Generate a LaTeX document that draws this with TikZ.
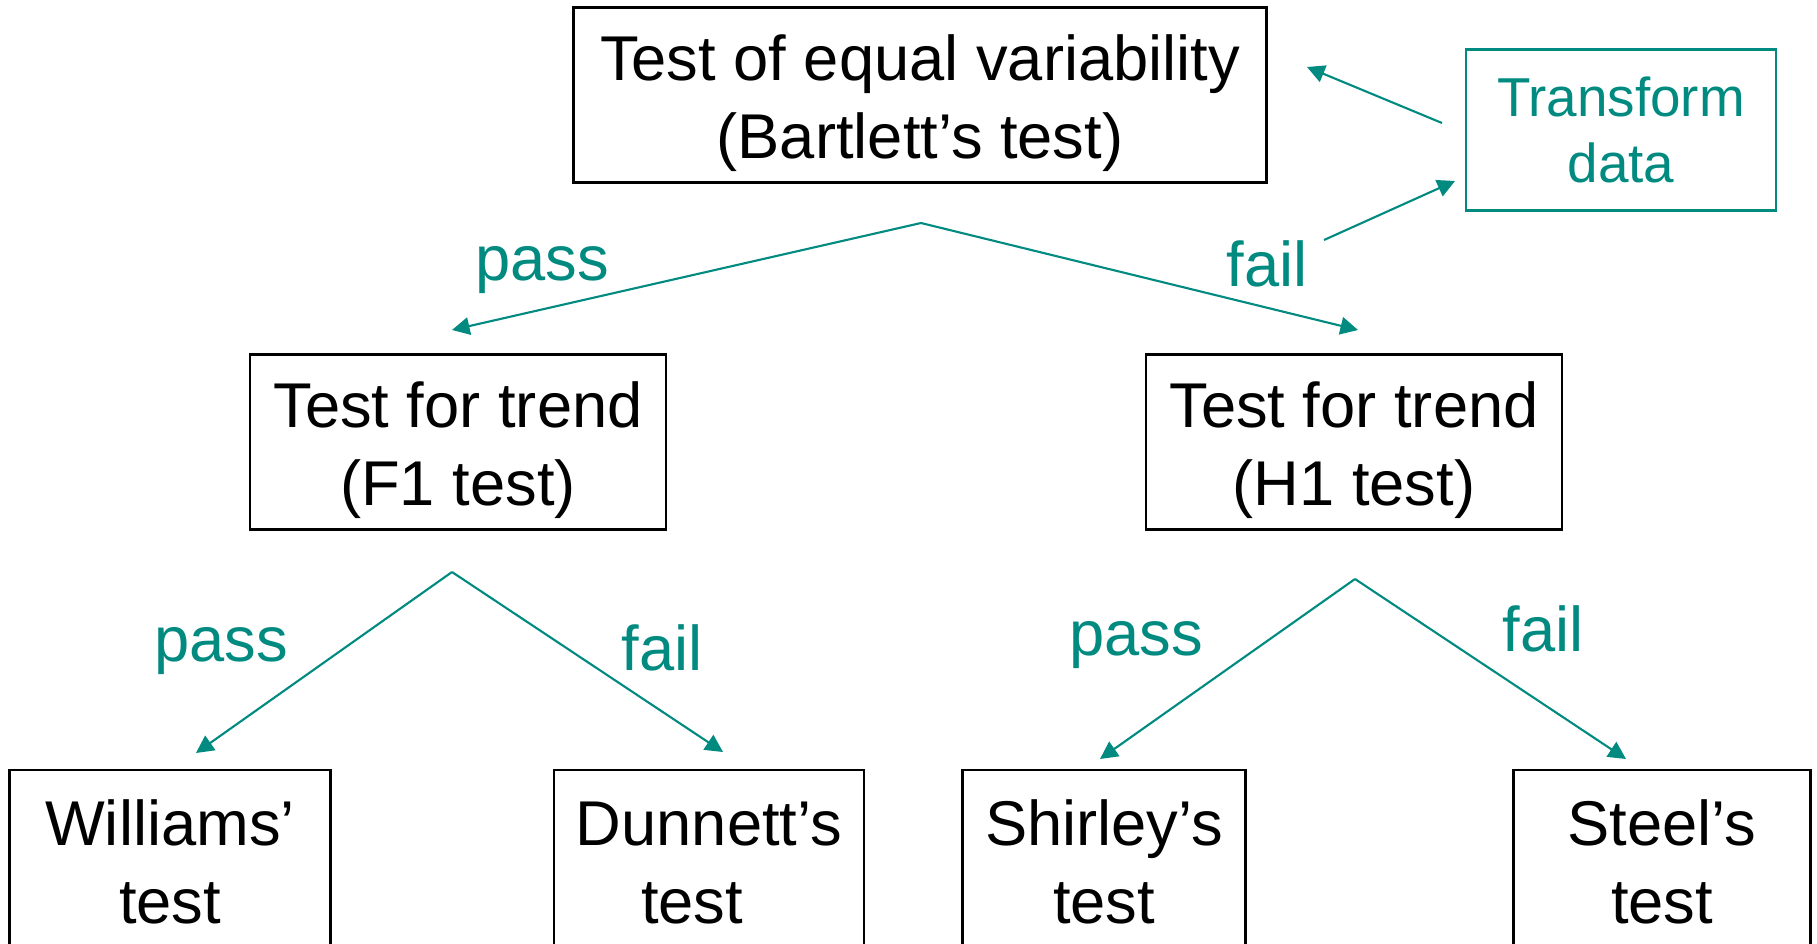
\documentclass[tikz,border=0pt]{standalone}
\usepackage{fontspec}
\setmainfont{Liberation Sans}
\usetikzlibrary{arrows.meta}
\definecolor{flowteal}{RGB}{0,138,128}
\def\boxh{17.5mm}
\def\boxstrut{\rule{0pt}{17.4pt}}
\def\resstrut{\rule{0pt}{14.8pt}}

\begin{document}
\begin{tikzpicture}[x=0.1mm,y=-0.1mm,->,>={Triangle[length=5pt,width=5pt]},draw=flowteal,line width=0.6pt]
    \tikzstyle{test}=[rectangle,draw=black,line width=0.6pt,align=center,inner sep=0pt,minimum height=\boxh,font=\fontsize{18pt}{22.2pt}\selectfont]
    \tikzstyle{result}=[test,minimum height=17.8mm]
    \tikzstyle{transform}=[rectangle,draw=flowteal,text=flowteal,line width=0.6pt,align=center,inner sep=0pt,font=\fontsize{15.6pt}{18.8pt}\selectfont]
    \tikzstyle{annot}=[text=flowteal,inner sep=0pt,font=\fontsize{18pt}{22pt}\selectfont]

    \clip (0,0) rectangle (1817,943);

    % Draw the test boxes
    \node[test,minimum width=69.3mm] (top) at (920,95) {\boxstrut Test of equal variability\\(Bartlett’s test)};
    \node[transform,minimum width=31mm,minimum height=16.1mm] (tr) at (1621,130) {Transform\\data};
    \node[test,minimum width=41.6mm] (L) at (458,442) {\boxstrut Test for trend\\(F1 test)};
    \node[test,minimum width=41.6mm] (R) at (1354,442) {\boxstrut Test for trend\\(H1 test)};

    % Bottom row, cut off by the page edge
    \node[result,minimum width=32.1mm] (L-pass-box) at (170,859) {\resstrut Williams’\\test};
    \node[result,minimum width=31mm] (L-fail-box) at (709,859) {\resstrut Dunnett’s\\test\hspace*{3.4mm}};
    \node[result,minimum width=28.3mm] (R-pass-box) at (1104,859) {\resstrut Shirley’s\\test};
    \node[result,minimum width=29.7mm] (R-fail-box) at (1662,859) {\resstrut Steel’s\\test};

    % Fork points and arrow ends
    \coordinate (top-fork) at (921,223);
    \coordinate (top-pass) at (452,330);
    \coordinate (top-fail) at (1358,330);
    \coordinate (L-fork) at (452,572);
    \coordinate (L-pass) at (196,753);
    \coordinate (L-fail) at (723,752);
    \coordinate (R-fork) at (1355,579);
    \coordinate (R-pass) at (1100,759);
    \coordinate (R-fail) at (1626,759);

    % Connect every fork with its pass and fail branch
    \foreach \fork in {top,L,R}
        \foreach \dest in {pass,fail}
            \path (\fork-fork) edge (\fork-\dest);

    % Loop through the transformation
    \coordinate (tr-in) at (1324,240);
    \coordinate (tr-west) at (1455,181);
    \coordinate (tr-out) at (1442,123);
    \coordinate (top-east) at (1307,67);
    \path (tr-in) edge (tr-west);
    \path (tr-out) edge (top-east);

    % Annotate the branches
    \node[annot] (top-p) at (542,270) {pass};
    \node[annot] (top-f) at (1267,264) {fail};
    \node[annot] (L-p) at (221,651) {pass};
    \node[annot] (L-f) at (662,648) {fail};
    \node[annot] (R-p) at (1136,645) {pass};
    \node[annot] (R-f) at (1543,629) {fail};
\end{tikzpicture}
\end{document}
